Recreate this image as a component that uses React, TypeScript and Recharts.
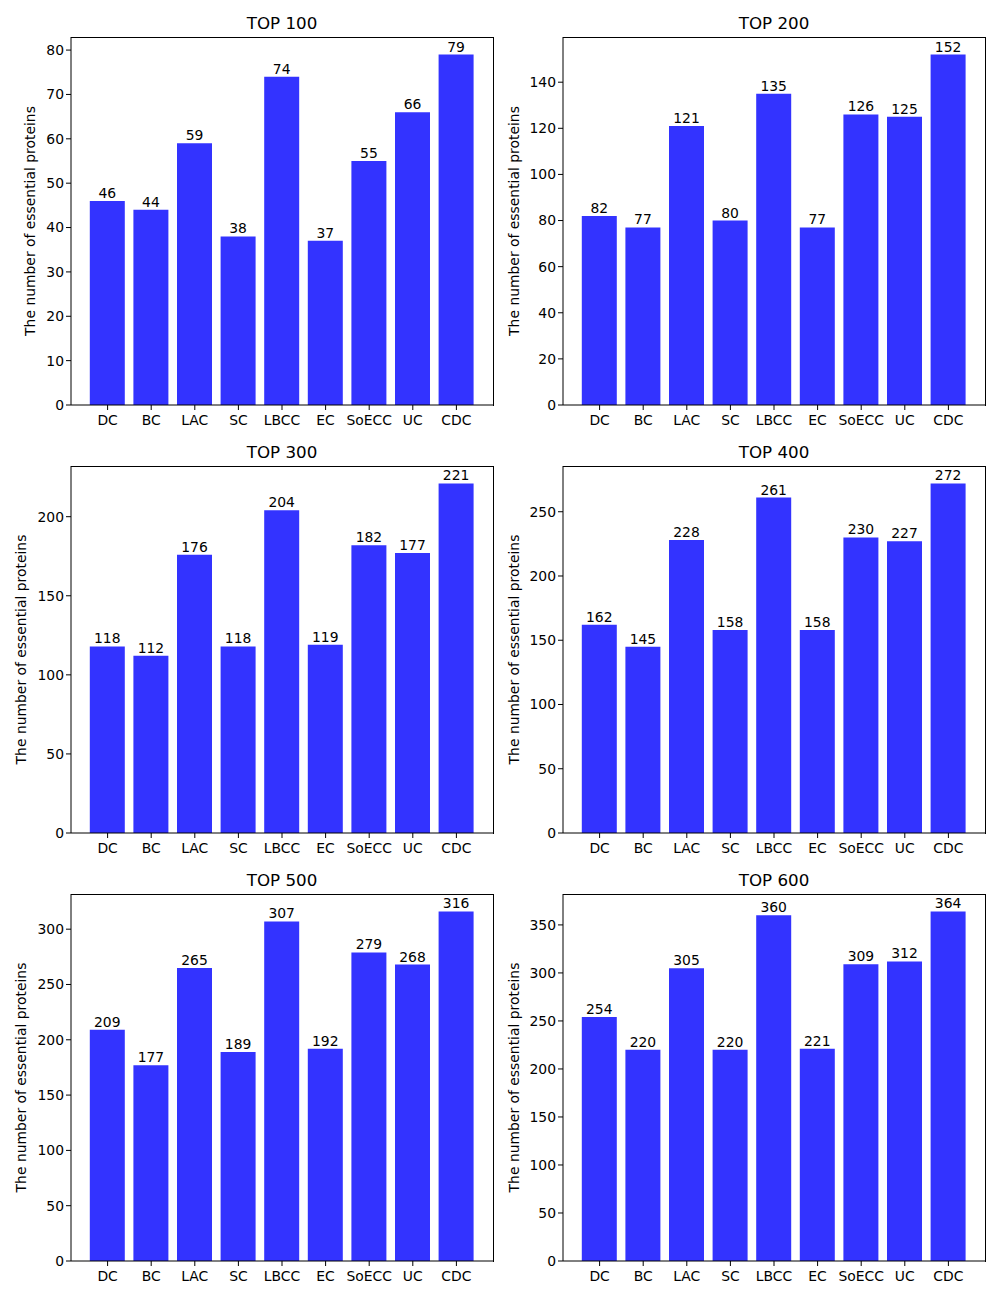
import { Bar, BarChart, LabelList, XAxis, YAxis } from "recharts";

const methods = ["DC", "BC", "LAC", "SC", "LBCC", "EC", "SoECC", "UC", "CDC"];

const top100 = [46, 44, 59, 38, 74, 37, 55, 66, 79];
const top200 = [82, 77, 121, 80, 135, 77, 126, 125, 152];
const top300 = [118, 112, 176, 118, 204, 119, 182, 177, 221];
const top400 = [162, 145, 228, 158, 261, 158, 230, 227, 272];
const top500 = [209, 177, 265, 189, 307, 192, 279, 268, 316];
const top600 = [254, 220, 305, 220, 360, 221, 309, 312, 364];

const ticks100 = [0, 10, 20, 30, 40, 50, 60, 70, 80];
const ticks200 = [0, 20, 40, 60, 80, 100, 120, 140];
const ticks300 = [0, 50, 100, 150, 200];
const ticks400 = [0, 50, 100, 150, 200, 250];
const ticks500 = [0, 50, 100, 150, 200, 250, 300];
const ticks600 = [0, 50, 100, 150, 200, 250, 300, 350];

const FONT = "'DejaVu Sans', sans-serif";
const BLUE = "#3333ff";
const PLOT_W = 422;
const AXIS_W = 70;

type PanelProps = {
  title: string;
  values: number[];
  ticks: number[];
  left: number;
  top: number;
  plotH: number;
  labelGap: number;
};

const Panel = ({ title, values, ticks, left, top, plotH, labelGap }: PanelProps) => {
  const data = methods.map((name, i) => ({ name, value: values[i] }));
  const ymax = Math.max(...values) * 1.05;

  const yLabel = (props: any) => {
    const vb = props.viewBox;
    const x = vb.x + vb.width - labelGap;
    const y = vb.y + vb.height / 2;
    return (
      <text
        x={x}
        y={y}
        transform={`rotate(-90, ${x}, ${y})`}
        textAnchor="middle"
        dominantBaseline="central"
        fontSize={13.9}
        fontFamily={FONT}
        fill="#000"
      >
        The number of essential proteins
      </text>
    );
  };

  return (
    <div style={{ position: "absolute", left: left - AXIS_W, top: top - 37 }}>
      <div
        style={{
          position: "absolute",
          left: AXIS_W,
          top: 13,
          width: PLOT_W,
          textAlign: "center",
          fontSize: 16.7,
          fontFamily: FONT,
          lineHeight: "20px",
        }}
      >
        {title}
      </div>
      <BarChart
        width={AXIS_W + PLOT_W + 10}
        height={37 + plotH + 40}
        data={data}
        margin={{ top: 37, right: 10, left: 0, bottom: 0 }}
        barCategoryGap={0}
      >
        <XAxis
          dataKey="name"
          interval={0}
          height={40}
          padding={{ left: 14.8, right: 14.8 }}
          stroke="#000"
          tickSize={5}
          tick={{ fontSize: 13.9, fontFamily: FONT, fill: "#000", dy: 3 }}
        />
        <YAxis
          width={AXIS_W}
          domain={[0, ymax]}
          ticks={ticks}
          interval={0}
          allowDataOverflow
          stroke="#000"
          tickSize={5}
          tick={{ fontSize: 13.9, fontFamily: FONT, fill: "#000" }}
          label={yLabel}
        />
        <Bar dataKey="value" fill={BLUE} barSize={35} isAnimationActive={false}>
          <LabelList
            dataKey="value"
            position="top"
            offset={3}
            fontSize={13.9}
            fontFamily={FONT}
            fill="#000"
          />
        </Bar>
      </BarChart>
      {/* top and right spines */}
      <div
        style={{
          position: "absolute",
          left: AXIS_W,
          top: 36.5,
          width: PLOT_W - 0.5,
          height: plotH,
          borderTop: "1px solid #000",
          borderRight: "1px solid #000",
          pointerEvents: "none",
        }}
      />
    </div>
  );
};

export default function App() {
  return (
    <div style={{ position: "absolute", left: 0, top: 0, width: 1000, height: 1300, background: "#fff" }}>
      <Panel title="TOP 100" values={top100} ticks={ticks100} left={71} top={37} plotH={368} labelGap={41} />
      <Panel title="TOP 200" values={top200} ticks={ticks200} left={563} top={37} plotH={368} labelGap={49} />
      <Panel title="TOP 300" values={top300} ticks={ticks300} left={71} top={466} plotH={367} labelGap={50} />
      <Panel title="TOP 400" values={top400} ticks={ticks400} left={563} top={466} plotH={367} labelGap={49} />
      <Panel title="TOP 500" values={top500} ticks={ticks500} left={71} top={894} plotH={367} labelGap={50} />
      <Panel title="TOP 600" values={top600} ticks={ticks600} left={563} top={894} plotH={367} labelGap={49} />
    </div>
  );
}
